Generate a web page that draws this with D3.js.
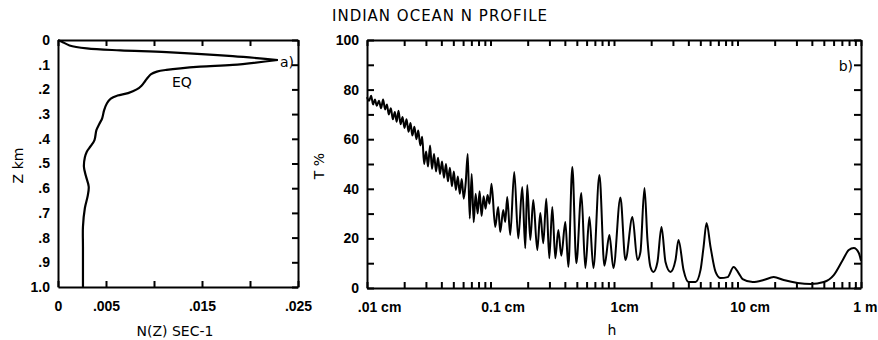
<!DOCTYPE html>
<html>
<head>
<meta charset="utf-8">
<script src="https://cdn.jsdelivr.net/npm/d3@7"></script>
<style>
  body { margin: 0; background: #fff; }
  svg { display: block; font-family: "DejaVu Sans", sans-serif; }
  .axis path, .axis line { stroke: #000; stroke-width: 2; }
  .axis text { font-size: 14px; font-weight: bold; fill: #000; }
  .label { font-size: 14px; fill: #000; }
</style>
</head>
<body>
<svg id="chart" width="878" height="340"></svg>
<script>
// panel a) N profile, N (sec-1) against depth z (km)
const nValues = [0, 0.0004, 0.0012, 0.0030, 0.0065, 0.0113, 0.0182, 0.0229,
  0.0182, 0.0148, 0.0113, 0.0103, 0.0097, 0.0094, 0.0091, 0.0087, 0.0082, 0.0073,
  0.0062, 0.0055, 0.0051, 0.0048, 0.0046, 0.0043, 0.0040, 0.0038, 0.0034, 0.0030,
  0.0028, 0.0027, 0.0029, 0.0032, 0.0031, 0.0028, 0.0026, 0.0026, 0.0026];
const zValues = [0, 0.007, 0.022, 0.034, 0.042, 0.049, 0.065, 0.081,
  0.101, 0.108, 0.121, 0.128, 0.138, 0.150, 0.165, 0.185, 0.200, 0.215,
  0.225, 0.237, 0.256, 0.285, 0.317, 0.340, 0.365, 0.405, 0.430, 0.452,
  0.475, 0.513, 0.550, 0.594, 0.630, 0.680, 0.756, 0.837, 1.0];
const peakIndex = 7;

const nTicks = [0, 0.005, 0.01, 0.015, 0.02, 0.025];
const nTickLabels = ['0', '.005', '', '.015', '', '.025'];
const zTicks = [0, 0.1, 0.2, 0.3, 0.4, 0.5, 0.6, 0.7, 0.8, 0.9, 1.0];
const zTickLabels = ['0', '.1', '.2', '.3', '.4', '.5', '.6', '.7', '.8', '.9', '1.0'];

// panel b) T % against h (cm)
const hValues = [
  0.0100, 0.0104, 0.0108, 0.0112, 0.0116, 0.0120, 0.0125, 0.0130, 0.0135, 0.0140,
  0.0145, 0.0150, 0.0156, 0.0162, 0.0168, 0.0174, 0.0180, 0.0187, 0.0194, 0.0201,
  0.0209, 0.0217, 0.0225, 0.0233, 0.0242, 0.0251, 0.0260, 0.0270, 0.0280, 0.0290,
  0.0301, 0.0312, 0.0324, 0.0336, 0.0349, 0.0362, 0.0376, 0.0390, 0.0405, 0.0420,
  0.0436, 0.0452, 0.0469, 0.0487, 0.0505, 0.0524, 0.0544, 0.0564, 0.0585, 0.0607,
  0.0630, 0.0654, 0.0679, 0.0704, 0.0731, 0.0758, 0.0787, 0.0816, 0.0847, 0.0879,
  0.0912, 0.0946, 0.0982, 0.1019,
  0.1092, 0.1154, 0.1199, 0.1268, 0.1316, 0.1366, 0.1444, 0.1557, 0.1678, 0.1808,
  0.1912, 0.1984, 0.2099, 0.2220, 0.2392, 0.2530, 0.2675, 0.2829, 0.2993, 0.3165,
  0.3347, 0.3541, 0.3744, 0.4035, 0.4268, 0.4598, 0.4955, 0.544, 0.586, 0.632,
  0.681, 0.762, 0.836, 0.918, 0.989, 1.127, 1.238, 1.410, 1.548, 1.637,
  1.765, 1.866, 1.973, 2.087, 2.249, 2.424, 2.612, 2.867, 3.148, 3.329,
  3.656, 4.013, 4.574, 5.020, 5.310, 5.616, 6.051, 6.643, 7.294, 8.311,
  9.298, 10.21, 11.0, 13.26, 16.28, 19.62, 23.65, 30.72, 39.16, 49.93,
  60.17, 71.19, 79.62, 87.44, 96.0, 100];
const tValues = [
  77, 75.5, 77.5, 74, 76, 73.5, 75.5, 72.5, 76, 72,
  74, 70, 72.5, 68, 71, 67, 71.5, 66, 69, 64.5,
  68, 63, 66.5, 61.5, 65, 60, 63.5, 57.5, 61, 50,
  55, 49, 57.5, 48, 54, 47, 52.5, 46, 51, 44.5,
  50, 43, 48.5, 41, 47, 39.5, 45, 38, 44, 36,
  42.5, 54, 28, 46, 26.5, 38, 30, 39, 29, 37,
  32, 37.5, 34, 42,
  24.6, 32.7, 22.6, 31.5, 26.6, 36.7, 21.4, 46.8, 20, 40.7,
  16, 41.5, 19.4, 35.5, 15.3, 30.2, 18, 36, 12, 32.7,
  12, 23.4, 13, 26.6, 8.5, 48.8, 10, 38.3, 8, 28.6,
  8, 45.6, 9, 21.4, 8, 36.5, 11.3, 28.6, 11.3, 14.5,
  40.3, 19.4, 8.5, 6.5, 10.5, 24.6, 10.5, 6.5, 11.3, 19.4,
  7.3, 2.4, 2.4, 7.3, 16.5, 26.2, 16.5, 6.5, 4, 4.4,
  8.5, 6.0, 3.6, 2.4, 3.2, 4.4, 3.2, 2, 1.6, 2.4,
  5.2, 11.3, 15.3, 16.1, 14.1, 11];

const tTicks = d3.range(0, 101, 10);
const hMinorTicks = [0.01, 0.1, 1, 10].flatMap(d => [1, 2, 3, 4, 5, 6, 7, 8, 9].map(k => +(k * d).toPrecision(3))).concat([100]);
const hDecades = [0.01, 0.1, 1, 10, 100];
const hTickLabels = ['.01 cm', '0.1 cm', '1cm', '10 cm', '1 m'];

const svg = d3.select('#chart');

// ---- panel a ----
const ax = {left: 58, right: 298, top: 40, bottom: 287};
const xN = d3.scaleLinear().domain([0, 0.025]).range([ax.left, ax.right]);
const yZ = d3.scaleLinear().domain([0, 1]).range([ax.top, ax.bottom]);

svg.append('g').attr('class', 'axis')
  .attr('transform', `translate(0,${ax.bottom})`)
  .call(d3.axisBottom(xN).tickValues(nTicks).tickSize(-6).tickSizeOuter(0).tickPadding(14)
    .tickFormat((d, i) => nTickLabels[i]));
svg.append('g').attr('class', 'axis')
  .attr('transform', `translate(0,${ax.top})`)
  .call(d3.axisTop(xN).tickValues(nTicks).tickSize(-6).tickSizeOuter(0).tickFormat(''));
svg.append('g').attr('class', 'axis')
  .attr('transform', `translate(${ax.left},0)`)
  .call(d3.axisLeft(yZ).tickValues(zTicks).tickSize(0).tickSizeOuter(0).tickPadding(8)
    .tickFormat((d, i) => zTickLabels[i]));
svg.append('g').attr('class', 'axis')
  .attr('transform', `translate(${ax.right},0)`)
  .call(d3.axisRight(yZ).tickValues(zTicks).tickSize(-6).tickSizeOuter(0).tickFormat(''));

// two smooth pieces meeting at the sharp peak
const profile = d3.zip(nValues, zValues);
const profileLine = d3.line().curve(d3.curveCatmullRom.alpha(0.5))
  .x(d => xN(d[0])).y(d => yZ(d[1]));
[profile.slice(0, peakIndex + 1), profile.slice(peakIndex)].forEach(part => {
  svg.append('path')
    .datum(part)
    .attr('fill', 'none').attr('stroke', '#000').attr('stroke-width', 2.2)
    .attr('stroke-linejoin', 'round')
    .attr('d', profileLine);
});

svg.append('text').attr('class', 'label').attr('x', 280).attr('y', 67).text('a)');
svg.append('text').attr('class', 'label').attr('x', 172).attr('y', 87).text('EQ');
svg.append('text').attr('class', 'label')
  .attr('transform', `translate(23,${(ax.top + ax.bottom) / 2 + 2}) rotate(-90)`)
  .attr('text-anchor', 'middle').text('Z km');
svg.append('text').attr('class', 'label').attr('x', 175).attr('y', 336)
  .attr('text-anchor', 'middle').text('N(Z) SEC-1');

// ---- panel b ----
const bx = {left: 367, right: 861, top: 40, bottom: 288};
const xH = d3.scaleLog().domain([0.01, 100]).range([bx.left, bx.right]);
const yT = d3.scaleLinear().domain([0, 100]).range([bx.bottom, bx.top]);

const gxb = svg.append('g').attr('class', 'axis')
  .attr('transform', `translate(0,${bx.bottom})`)
  .call(d3.axisBottom(xH).tickValues(hMinorTicks).tickSize(-6).tickSizeOuter(0).tickPadding(14)
    .tickFormat(d => {
      const i = hDecades.findIndex(v => Math.abs(v - d) < 1e-9);
      return i < 0 ? '' : hTickLabels[i];
    }));
// centre the number part of each label on its tick, keep the last one inside the page
gxb.selectAll('.tick text').each(function(d) {
  const t = d3.select(this);
  const lab = t.text();
  if (!lab) return;
  const num = lab.match(/^[.\d]+/)[0];
  t.text('').attr('text-anchor', 'start');
  const s1 = t.append('tspan').text(num);
  t.append('tspan').text(lab.slice(num.length));
  let x0 = -s1.node().getComputedTextLength() / 2;
  const w = this.getComputedTextLength();
  const maxX = 877 - xH(d);
  if (x0 + w > maxX) x0 = maxX - w;
  t.attr('x', x0);
});
svg.append('g').attr('class', 'axis')
  .attr('transform', `translate(0,${bx.top})`)
  .call(d3.axisTop(xH).tickValues(hMinorTicks).tickSize(-6).tickSizeOuter(0).tickFormat(''));
svg.append('g').attr('class', 'axis')
  .attr('transform', `translate(${bx.left},0)`)
  .call(d3.axisLeft(yT).tickValues(tTicks).tickSize(-7).tickSizeOuter(0).tickPadding(8)
    .tickFormat(d => d % 20 === 0 ? d : ''));
svg.append('g').attr('class', 'axis')
  .attr('transform', `translate(${bx.right},0)`)
  .call(d3.axisRight(yT).tickValues(tTicks).tickSize(-7).tickSizeOuter(0).tickFormat(''));

svg.append('path')
  .datum(d3.zip(hValues, tValues))
  .attr('fill', 'none').attr('stroke', '#000').attr('stroke-width', 2)
  .attr('stroke-linejoin', 'round')
  .attr('d', d3.line().curve(d3.curveMonotoneX).x(d => xH(d[0])).y(d => yT(d[1])));

svg.append('text').attr('class', 'label').attr('x', 853).attr('y', 71)
  .attr('text-anchor', 'end').text('b)');
svg.append('text').attr('class', 'label')
  .attr('transform', `translate(324,${(bx.top + bx.bottom) / 2 + 2}) rotate(-90)`)
  .attr('text-anchor', 'middle').text('T %');
svg.append('text').attr('class', 'label').attr('x', 612).attr('y', 335)
  .attr('text-anchor', 'middle').text('h');

svg.append('text').attr('class', 'label').attr('x', 440).attr('y', 21)
  .attr('text-anchor', 'middle').style('font-size', '15px').style('letter-spacing', '1px')
  .text('INDIAN OCEAN N PROFILE');
</script>
</body>
</html>
